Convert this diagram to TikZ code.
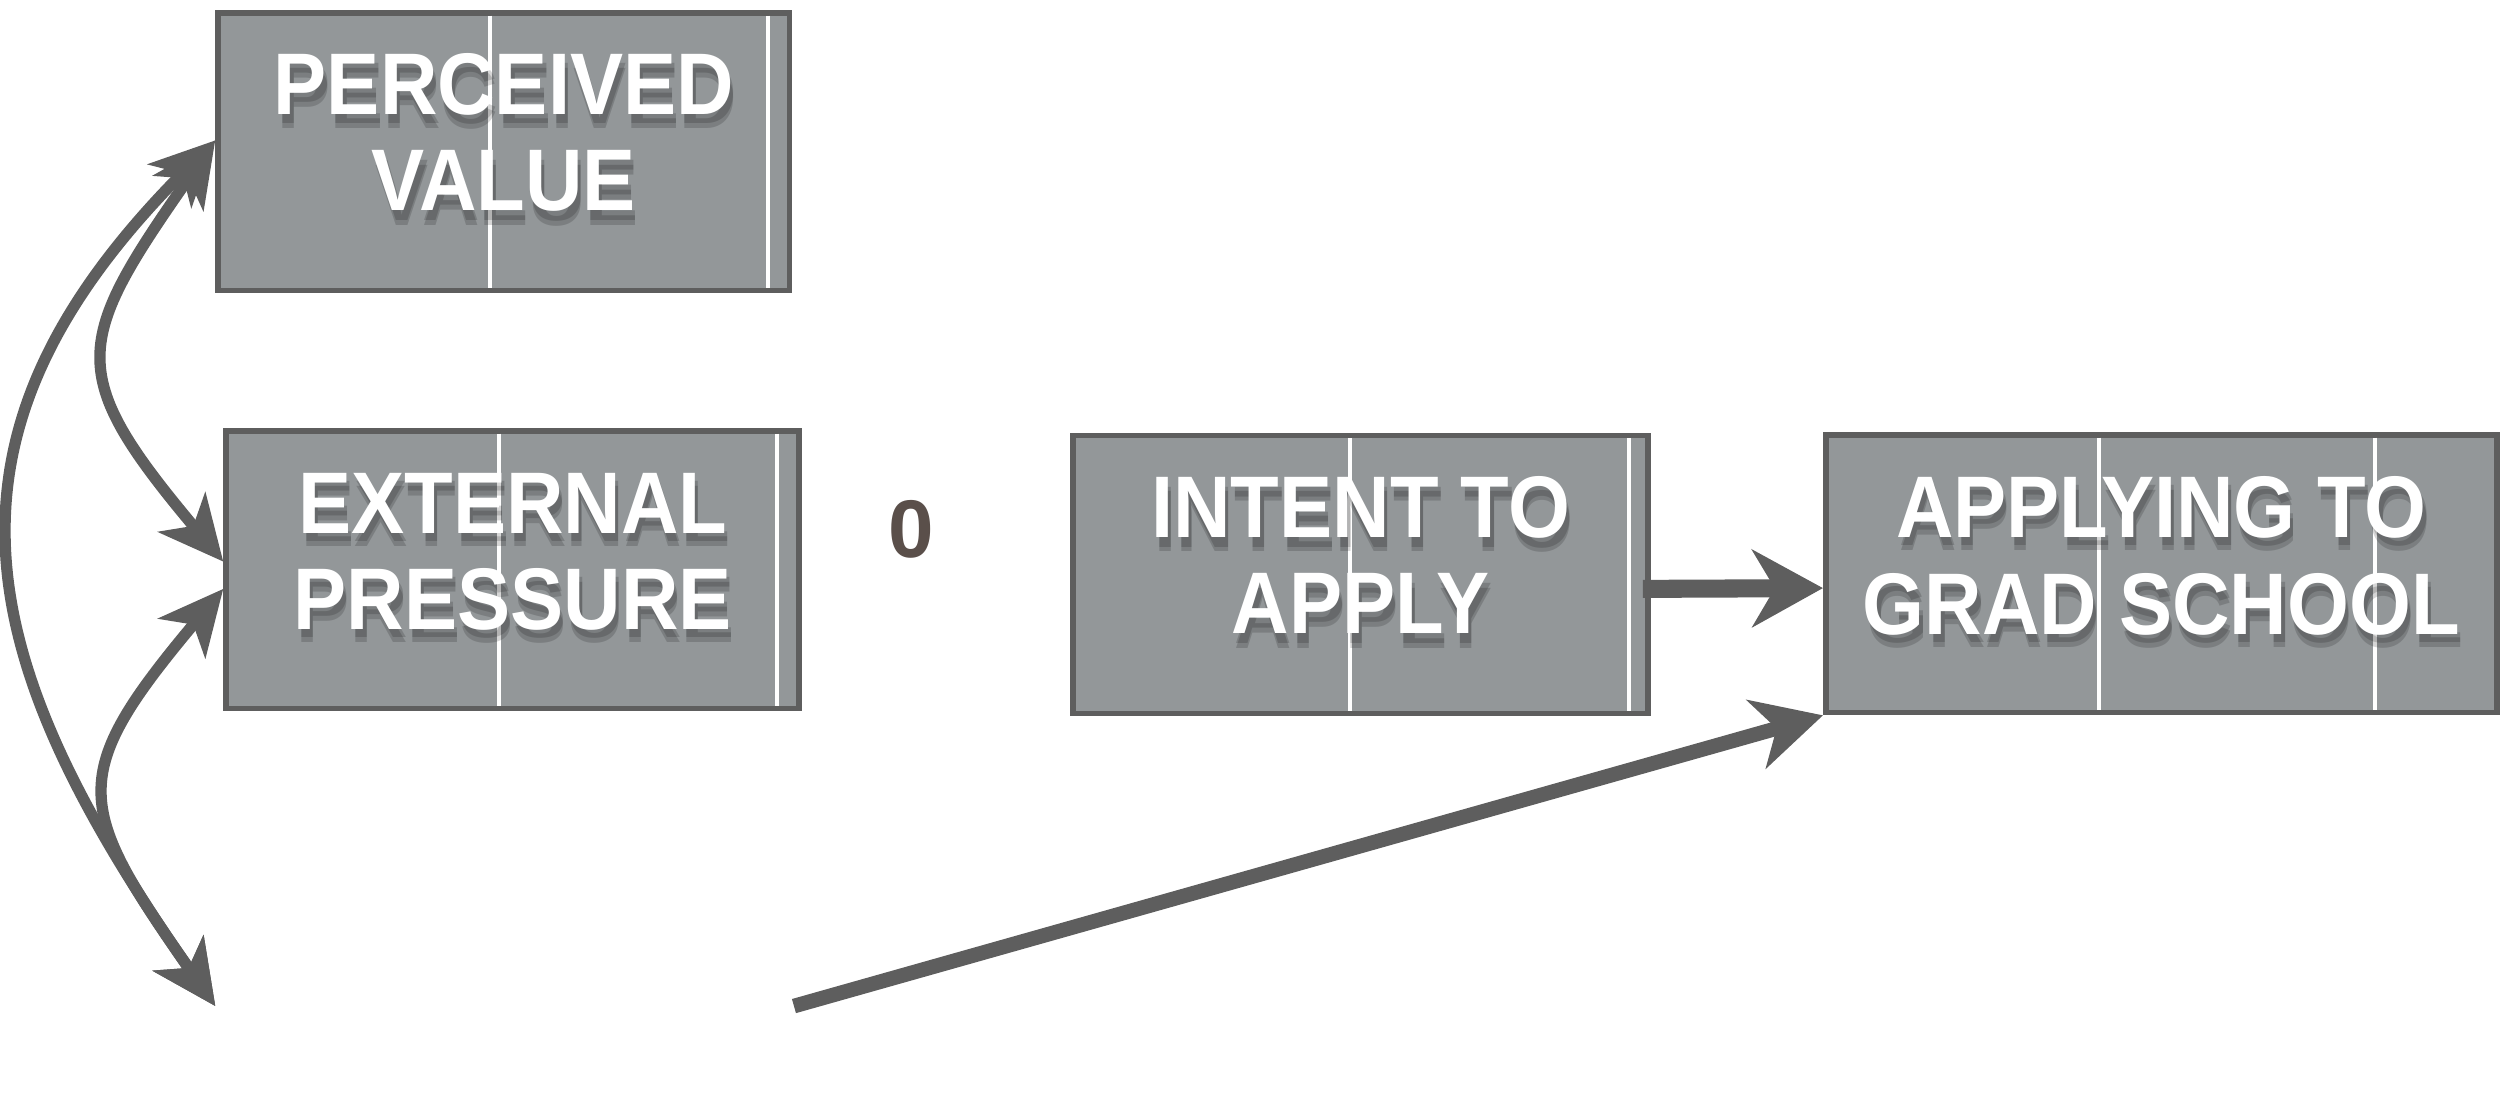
\documentclass[tikz,border=0pt]{standalone}
\usepackage{fontspec}
\setmainfont{Liberation Sans}
\usetikzlibrary{arrows.meta}
\definecolor{boxgray}{HTML}{939799}
\definecolor{edgegray}{HTML}{5E5E5E}
\definecolor{zerobrown}{HTML}{5A4F4A}
\newcommand{\squeeze}[1]{\scalebox{0.91}[1]{#1}}

\begin{document}
\begin{tikzpicture}[x=0.01cm,y=-0.01cm,
  box/.style={draw=edgegray,fill=boxgray,line width=1pt,minimum height=1.73cm,inner sep=0pt},
  words/.style={text=white,font=\bfseries\fontsize{15.5}{17.1}\selectfont,align=center},
  shade/.style={words,text=black,opacity=.16},
  stripe/.style={white,line width=.7pt},
  arr/.style={edgegray,line width=3.2pt,-{Stealth[length=4.4mm,width=4.8mm,inset=1.4mm]}},
  arrlong/.style={edgegray,line width=2.6pt,-{Stealth[length=4.3mm,width=4.4mm,inset=1.3mm]}},
  link/.style={edgegray,line width=2pt,>={Stealth[length=4mm,width=3.8mm,inset=1.1mm]},<->}]

\useasboundingbox (0,0) rectangle (1568,697);

% boxes
\node[box,minimum width=3.56cm] (pv) at (314,94.5) {};
\node[box,minimum width=3.57cm] (ep) at (319.5,355) {};
\node[box,minimum width=3.58cm] (intent) at (848,358) {};
\node[box,minimum width=4.18cm] (apply) at (1347,357.5) {};
\node[minimum width=3.59cm,minimum height=1cm] (blank) at (314.5,627) {};

\foreach \n/\d in {pv/1.71,pv/3.44,ep/1.72,ep/3.45,intent/1.74,intent/3.48,apply/1.72,apply/3.44}
    \draw[stripe] ([xshift=\d cm,yshift=-1pt]\n.north west) -- ([xshift=\d cm,yshift=1pt]\n.south west);

% soft shadows under the labels
\foreach \k/\s in {1/0.06,2/0.03}{
    \node[shade] (pvs\k) at ([xshift=0.02cm,yshift=\s cm]pv.center) {\squeeze{PERCEIVED}\\\squeeze{VALUE}};
    \node[shade] (eps\k) at ([xshift=0.02cm,yshift=\s cm]ep.center) {\squeeze{EXTERNAL}\\\squeeze{PRESSURE}};
    \node[shade] (ints\k) at ([xshift=0.02cm,yshift=\s cm]intent.center) {\squeeze{INTENT TO}\\\squeeze{APPLY}};
    \node[shade] (aps\k) at ([xshift=0.02cm,yshift=\s cm]apply.center) {\squeeze{APPLYING TO}\\\squeeze{GRAD SCHOOL}};
}

% labels
\node[words] (pvt) at ([yshift=0.12cm]pv.center) {\squeeze{PERCEIVED}\\\squeeze{VALUE}};
\node[words] (ept) at ([yshift=0.11cm]ep.center) {\squeeze{EXTERNAL}\\\squeeze{PRESSURE}};
\node[words] (intt) at ([yshift=0.12cm]intent.center) {\squeeze{INTENT TO}\\\squeeze{APPLY}};
\node[words] (apt) at ([yshift=0.11cm]apply.center) {\squeeze{APPLYING TO}\\\squeeze{GRAD SCHOOL}};

\node[text=zerobrown,font=\bfseries\fontsize{14.5}{16}\selectfont] (zero) at (568,330) {0};

% arrows
\draw[arr] ([xshift=-0.05cm,yshift=-0.09cm]intent.east) -- ([yshift=-0.09cm]apply.west);
\draw[arrlong] (blank.east) -- (apply.south west);
\draw[link] ([yshift=0.07cm]pv.west) to[out=225,in=125,looseness=1.25] (blank.west);
\draw[link] ([yshift=0.07cm]pv.west) to[out=235,in=130,looseness=1.5] ([yshift=0.05cm]ep.west);
\draw[link] ([yshift=-0.12cm]ep.west) to[out=230,in=125,looseness=1.5] (blank.west);
\end{tikzpicture}
\end{document}
